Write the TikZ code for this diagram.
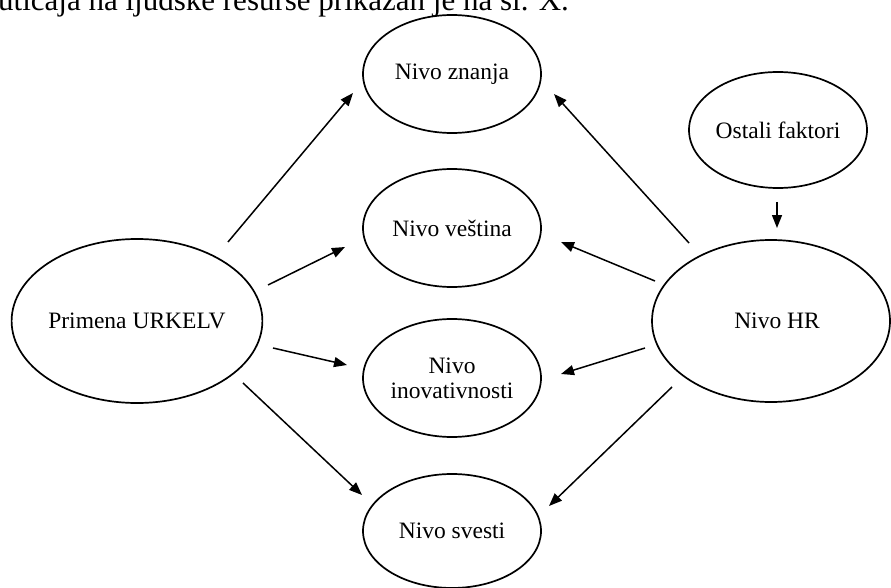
\documentclass[tikz,border=0pt]{standalone}
\usepackage{fontspec}
\setmainfont{Liberation Serif}
\usetikzlibrary{shapes.geometric,arrows.meta}
\begin{document}
\begin{tikzpicture}[x=1pt,y=-1pt,
  oval/.style={draw, ellipse, line width=1.7pt, inner sep=0pt, align=center,
    font=\fontsize{23.5}{25}\selectfont},
  arr/.style={line width=1.5pt, -{Triangle[length=13pt,width=10pt]}}]
\useasboundingbox (0,0) rectangle (891,588);
\clip (0,0) rectangle (891,588);
\node[anchor=base west, inner sep=0pt, font=\fontsize{31}{34}\selectfont] (top) at (-2,11)
  {uticaja na ljudske resurse prikazan je na sl. X.};
\node[oval, minimum width=178pt, minimum height=118pt] (z) at (452,74) {Nivo znanja};
\node[oval, minimum width=178pt, minimum height=118pt] (v) at (452,228) {Nivo veština};
\node[oval, minimum width=178pt, minimum height=118pt] (i) at (452,378) {Nivo\\inovativnosti};
\node[oval, minimum width=178pt, minimum height=114pt] (s) at (452,531) {Nivo svesti};
\node[oval, minimum width=250pt, minimum height=164pt] (p) at (137,321) {Primena URKELV};
\node[oval, minimum width=238pt, minimum height=162pt] (h) at (771,321) {\hspace{12pt}Nivo HR};
\node[oval, minimum width=178pt, minimum height=116pt] (o) at (778,130) {Ostali faktori};
% connector end points
\coordinate (a1s) at (228,242); \coordinate (a1e) at (353,93);
\coordinate (a2s) at (268,285); \coordinate (a2e) at (345,247);
\coordinate (a3s) at (273,348); \coordinate (a3e) at (347,365);
\coordinate (a4s) at (243,383); \coordinate (a4e) at (362,495);
\coordinate (b1s) at (689,243); \coordinate (b1e) at (554,94);
\coordinate (b2s) at (655,281); \coordinate (b2e) at (561,242);
\coordinate (b3s) at (645,348); \coordinate (b3e) at (561,374);
\coordinate (b4s) at (672,387); \coordinate (b4e) at (549,506);
\coordinate (cs) at (777,202); \coordinate (ce) at (777,228);
\draw[arr] (a1s) -- (a1e);
\draw[arr] (a2s) -- (a2e);
\draw[arr] (a3s) -- (a3e);
\draw[arr] (a4s) -- (a4e);
\draw[arr] (b1s) -- (b1e);
\draw[arr] (b2s) -- (b2e);
\draw[arr] (b3s) -- (b3e);
\draw[arr] (b4s) -- (b4e);
\draw[arr] (cs) -- (ce);
\end{tikzpicture}
\end{document}
